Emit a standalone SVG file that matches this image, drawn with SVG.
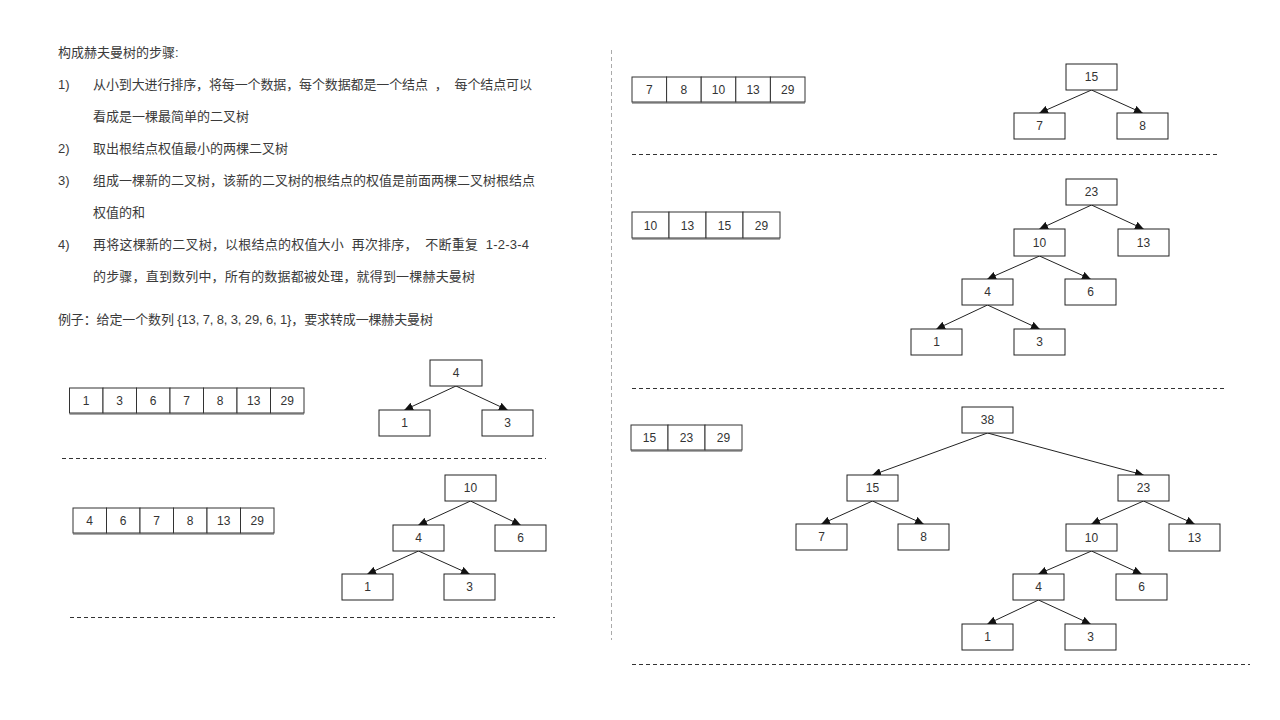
<svg xmlns="http://www.w3.org/2000/svg" width="1280" height="720" viewBox="0 0 1280 720">
<defs>
<style>
.t{font-family:"Liberation Sans","Noto Sans CJK SC",sans-serif;font-size:13px;fill:#3a3a3a}
.n rect{fill:#fff;stroke:#222;stroke-width:1}
.n text{font-family:"Liberation Sans","Noto Sans CJK SC",sans-serif;font-size:12px;fill:#333;text-anchor:middle}
.arr rect{fill:#fff;stroke:#333;stroke-width:1}
.arr text{font-family:"Liberation Sans","Noto Sans CJK SC",sans-serif;font-size:12px;fill:#333;text-anchor:middle}
.arr line{stroke:#555;stroke-width:1}
.e line{stroke:#222;stroke-width:1;marker-end:url(#ah)}
.sep{stroke:#333;stroke-width:1;stroke-dasharray:4 3}
</style>
<marker id="ah" markerWidth="9" markerHeight="8" refX="8.5" refY="4" orient="auto" markerUnits="userSpaceOnUse">
<path d="M0,0 L9,4 L0,8 z" fill="#111"/>
</marker>
</defs>
<rect width="1280" height="720" fill="#fff"/>

<g id="text">
<text class="t" x="58" y="57">构成赫夫曼树的步骤:</text>
<text class="t" x="58" y="89">1)</text>
<text class="t" x="93" y="89" textLength="439" lengthAdjust="spacing" xml:space="preserve">从小到大进行排序，将每一个数据，每个数据都是一个结点  ，  每个结点可以</text>
<text class="t" x="93" y="121">看成是一棵最简单的二叉树</text>
<text class="t" x="58" y="153">2)</text>
<text class="t" x="93" y="153">取出根结点权值最小的两棵二叉树</text>
<text class="t" x="58" y="185">3)</text>
<text class="t" x="93" y="185" textLength="442" lengthAdjust="spacing">组成一棵新的二叉树，该新的二叉树的根结点的权值是前面两棵二叉树根结点</text>
<text class="t" x="93" y="217">权值的和</text>
<text class="t" x="58" y="249">4)</text>
<text class="t" x="93" y="249" textLength="436" lengthAdjust="spacing" xml:space="preserve">再将这棵新的二叉树，以根结点的权值大小  再次排序，  不断重复  1-2-3-4</text>
<text class="t" x="93" y="281" textLength="382" lengthAdjust="spacing">的步骤，直到数列中，所有的数据都被处理，就得到一棵赫夫曼树</text>
<text class="t" x="58" y="324" textLength="375" lengthAdjust="spacing">例子：给定一个数列 {13, 7, 8, 3, 29, 6, 1}，要求转成一棵赫夫曼树</text>
</g>

<g id="separators">
<line class="sep" x1="62" y1="458.5" x2="546" y2="458.5"/>
<line class="sep" x1="70" y1="617.5" x2="555" y2="617.5"/>
<line class="sep" x1="632" y1="154.5" x2="1220" y2="154.5"/>
<line class="sep" x1="632" y1="388.5" x2="1225" y2="388.5"/>
<line class="sep" x1="632" y1="664.5" x2="1250" y2="664.5"/>
<line x1="611.5" y1="50" x2="611.5" y2="640" stroke="#aaa" stroke-width="1" stroke-dasharray="4 3"/>
</g>

<g id="array1" class="arr">
<rect x="69.5" y="388" width="33.5" height="25"/><text x="86.2" y="405">1</text>
<rect x="103" y="388" width="33.5" height="25"/><text x="119.7" y="405">3</text>
<rect x="136.5" y="388" width="33.5" height="25"/><text x="153.2" y="405">6</text>
<rect x="170" y="388" width="33.5" height="25"/><text x="186.7" y="405">7</text>
<rect x="203.5" y="388" width="33.5" height="25"/><text x="220.2" y="405">8</text>
<rect x="237" y="388" width="33.5" height="25"/><text x="253.7" y="405">13</text>
<rect x="270.5" y="388" width="33.5" height="25"/><text x="287.2" y="405">29</text>
<line x1="69.5" y1="414" x2="304" y2="414"/>
</g>

<g id="array2" class="arr">
<rect x="73" y="508" width="33.5" height="25"/><text x="89.7" y="525">4</text>
<rect x="106.5" y="508" width="33.5" height="25"/><text x="123.2" y="525">6</text>
<rect x="140" y="508" width="33.5" height="25"/><text x="156.7" y="525">7</text>
<rect x="173.5" y="508" width="33.5" height="25"/><text x="190.2" y="525">8</text>
<rect x="207" y="508" width="33.5" height="25"/><text x="223.7" y="525">13</text>
<rect x="240.5" y="508" width="33.5" height="25"/><text x="257.2" y="525">29</text>
<line x1="73" y1="534" x2="274" y2="534"/>
</g>

<g id="array3" class="arr">
<rect x="632" y="77" width="34.6" height="25"/><text x="649.3" y="94">7</text>
<rect x="666.6" y="77" width="34.6" height="25"/><text x="683.9" y="94">8</text>
<rect x="701.2" y="77" width="34.6" height="25"/><text x="718.5" y="94">10</text>
<rect x="735.8" y="77" width="34.6" height="25"/><text x="753.1" y="94">13</text>
<rect x="770.4" y="77" width="34.6" height="25"/><text x="787.7" y="94">29</text>
<line x1="632" y1="103" x2="805" y2="103"/>
</g>

<g id="array4" class="arr">
<rect x="632" y="212" width="37" height="26"/><text x="650.5" y="229.5">10</text>
<rect x="669" y="212" width="37" height="26"/><text x="687.5" y="229.5">13</text>
<rect x="706" y="212" width="37" height="26"/><text x="724.5" y="229.5">15</text>
<rect x="743" y="212" width="37" height="26"/><text x="761.5" y="229.5">29</text>
<line x1="632" y1="239" x2="780" y2="239"/>
</g>

<g id="array5" class="arr">
<rect x="631" y="425" width="37" height="25"/><text x="649.5" y="442">15</text>
<rect x="668" y="425" width="37" height="25"/><text x="686.5" y="442">23</text>
<rect x="705" y="425" width="37" height="25"/><text x="723.5" y="442">29</text>
<line x1="631" y1="451" x2="742" y2="451"/>
</g>

<g id="connectors" class="e">
<line x1="456" y1="386" x2="404.5" y2="410"/>
<line x1="456" y1="386" x2="507.5" y2="410"/>

<line x1="470.5" y1="501" x2="418.5" y2="525"/>
<line x1="470.5" y1="501" x2="520.5" y2="525"/>
<line x1="418.5" y1="551" x2="367.5" y2="574"/>
<line x1="418.5" y1="551" x2="469.5" y2="574"/>

<line x1="1091.5" y1="90" x2="1039.5" y2="113"/>
<line x1="1091.5" y1="90" x2="1142.5" y2="113"/>

<line x1="1091.5" y1="205" x2="1039.5" y2="229"/>
<line x1="1091.5" y1="205" x2="1143.5" y2="229"/>
<line x1="1039.5" y1="256" x2="987.5" y2="279"/>
<line x1="1039.5" y1="256" x2="1090.5" y2="279"/>
<line x1="987.5" y1="305" x2="936.5" y2="329"/>
<line x1="987.5" y1="305" x2="1039.5" y2="329"/>

<line x1="987.5" y1="433" x2="872.5" y2="475"/>
<line x1="987.5" y1="433" x2="1143.5" y2="475"/>
<line x1="872.5" y1="501" x2="821.5" y2="524"/>
<line x1="872.5" y1="501" x2="923.5" y2="524"/>
<line x1="1143.5" y1="501" x2="1091.5" y2="524"/>
<line x1="1143.5" y1="501" x2="1194.5" y2="524"/>
<line x1="1091.5" y1="551" x2="1038.5" y2="574"/>
<line x1="1091.5" y1="551" x2="1141.5" y2="574"/>
<line x1="1038.5" y1="600" x2="987.5" y2="624"/>
<line x1="1038.5" y1="600" x2="1090.5" y2="624"/>
</g>

<g id="t1-4" class="n"><rect x="430" y="360" width="52" height="26"/><text x="456" y="377">4</text></g>
<g id="t1-1" class="n"><rect x="379" y="410" width="51" height="26"/><text x="404.5" y="427">1</text></g>
<g id="t1-3" class="n"><rect x="482" y="410" width="51" height="26"/><text x="507.5" y="427">3</text></g>

<g id="t2-10" class="n"><rect x="445" y="475" width="51" height="26"/><text x="470.5" y="492">10</text></g>
<g id="t2-4" class="n"><rect x="393" y="525" width="51" height="26"/><text x="418.5" y="542">4</text></g>
<g id="t2-6" class="n"><rect x="495" y="525" width="51" height="26"/><text x="520.5" y="542">6</text></g>
<g id="t2-1" class="n"><rect x="342" y="574" width="51" height="26"/><text x="367.5" y="591">1</text></g>
<g id="t2-3" class="n"><rect x="444" y="574" width="51" height="26"/><text x="469.5" y="591">3</text></g>

<g id="t3-15" class="n"><rect x="1066" y="64" width="51" height="26"/><text x="1091.5" y="81">15</text></g>
<g id="t3-7" class="n"><rect x="1014" y="113" width="51" height="26"/><text x="1039.5" y="130">7</text></g>
<g id="t3-8" class="n"><rect x="1117" y="113" width="51" height="26"/><text x="1142.5" y="130">8</text></g>

<g id="t4-23" class="n"><rect x="1066" y="179" width="51" height="26"/><text x="1091.5" y="196">23</text></g>
<g id="t4-10" class="n"><rect x="1014" y="229" width="51" height="27"/><text x="1039.5" y="246.5">10</text></g>
<g id="t4-13" class="n"><rect x="1118" y="229" width="51" height="27"/><text x="1143.5" y="246.5">13</text></g>
<g id="t4-4" class="n"><rect x="962" y="279" width="51" height="26"/><text x="987.5" y="296">4</text></g>
<g id="t4-6" class="n"><rect x="1065" y="279" width="51" height="26"/><text x="1090.5" y="296">6</text></g>
<g id="t4-1" class="n"><rect x="911" y="329" width="51" height="26"/><text x="936.5" y="346">1</text></g>
<g id="t4-3" class="n"><rect x="1014" y="329" width="51" height="26"/><text x="1039.5" y="346">3</text></g>

<g id="t5-38" class="n"><rect x="962" y="407" width="51" height="26"/><text x="987.5" y="424">38</text></g>
<g id="t5-15" class="n"><rect x="847" y="475" width="51" height="26"/><text x="872.5" y="492">15</text></g>
<g id="t5-23" class="n"><rect x="1118" y="475" width="51" height="26"/><text x="1143.5" y="492">23</text></g>
<g id="t5-7" class="n"><rect x="796" y="524" width="51" height="26"/><text x="821.5" y="541">7</text></g>
<g id="t5-8" class="n"><rect x="898" y="524" width="51" height="26"/><text x="923.5" y="541">8</text></g>
<g id="t5-10" class="n"><rect x="1066" y="524" width="51" height="27"/><text x="1091.5" y="541.5">10</text></g>
<g id="t5-13" class="n"><rect x="1169" y="524" width="51" height="27"/><text x="1194.5" y="541.5">13</text></g>
<g id="t5-4" class="n"><rect x="1013" y="574" width="51" height="26"/><text x="1038.5" y="591">4</text></g>
<g id="t5-6" class="n"><rect x="1116" y="574" width="51" height="26"/><text x="1141.5" y="591">6</text></g>
<g id="t5-1" class="n"><rect x="962" y="624" width="51" height="26"/><text x="987.5" y="641">1</text></g>
<g id="t5-3" class="n"><rect x="1065" y="624" width="51" height="26"/><text x="1090.5" y="641">3</text></g>
</svg>
